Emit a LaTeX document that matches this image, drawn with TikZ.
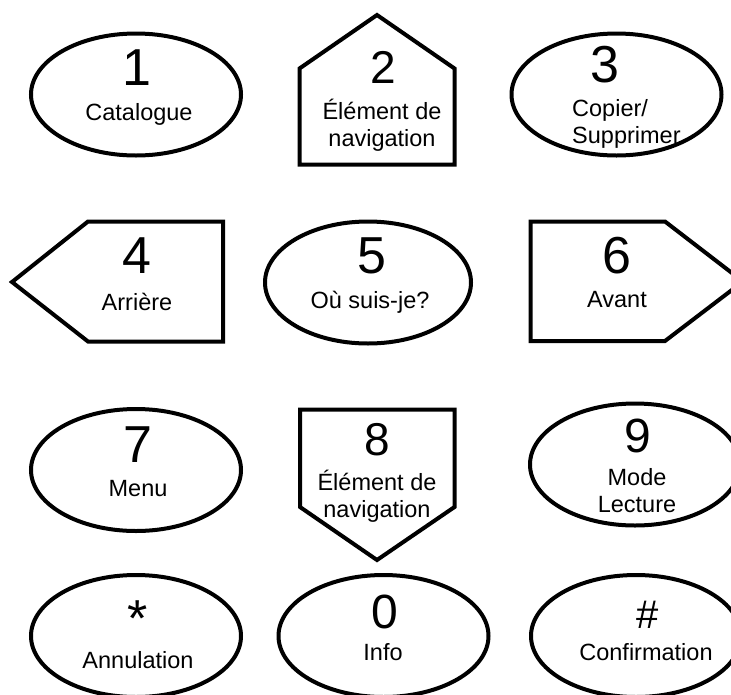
\documentclass[tikz,border=0pt]{standalone}
\usepackage{fontspec}
\setmainfont{Liberation Sans}
\usepackage{tikz}
\usetikzlibrary{shapes.geometric}
\tikzset{
  keyline/.style={draw=black, line width=4pt, line join=miter},
  keyoval/.style={
    ellipse, keyline,
    minimum width=210pt, minimum height=122pt,
    inner sep=0pt
  },
  keynum/.style={font=\fontsize{52}{52}\selectfont, anchor=base, inner sep=0pt},
  % two-line labels sit on the baseline of their last line
  keytext/.style={font=\fontsize{23.5}{27}\selectfont, anchor=base,
                  align=center, inner sep=0pt}
}

\begin{document}
\begin{tikzpicture}[x=1pt, y=-1pt]

  \useasboundingbox (0,0) rectangle (731,694);
  \clip (0,0) rectangle (731,694);

  % row 1
  \node[keyoval] (k1) at (136,94.5) {};
  \node[keynum]  (n1) at (137,85)  {1};
  \node[keytext] (t1) at (139,120) {Catalogue};

  \draw[keyline] (299.5,164.5) -- (454.5,164.5) -- (454.5,68.5)
                 -- (377,15) -- (299.5,68.5) -- cycle;
  \node[keynum, font=\fontsize{46}{46}\selectfont] (n2) at (383,83) {2};
  \node[keytext] (t2) at (382,146) {Élément de\\navigation};

  \node[keyoval] (k3) at (616.5,94.5) {};
  \node[keynum]  (n3) at (605,82)  {3};
  \node[keytext, anchor=base west, align=left] (t3) at (572,143) {Copier/\\Supprimer};

  % row 2
  \draw[keyline] (12,282) -- (88,221.5) -- (223,221.5) -- (223,341.5)
                 -- (88,341.5) -- cycle;
  \node[keynum]  (n4) at (137,273) {4};
  \node[keytext] (t4) at (137,310) {Arrière};

  \node[keyoval, minimum width=206pt] (k5) at (368,282.5) {};
  \node[keynum]  (n5) at (372,273) {5};
  \node[keytext] (t5) at (370,308) {Où suis-je?};

  \draw[keyline] (530.5,221.5) -- (665,221.5) -- (743,281.5)
                 -- (665,341) -- (530.5,341) -- cycle;
  \node[keynum]  (n6) at (617,273) {6};
  \node[keytext] (t6) at (617,307) {Avant};

  % row 3
  \node[keyoval] (k7) at (136,470) {};
  \node[keynum]  (n7) at (138,462) {7};
  \node[keytext] (t7) at (138,496) {Menu};

  \draw[keyline] (300,409.5) -- (454.5,409.5) -- (454.5,507)
                 -- (377,560) -- (300,507) -- cycle;
  \node[keynum, font=\fontsize{46}{46}\selectfont] (n8) at (377,455) {8};
  \node[keytext] (t8) at (377,517) {Élément de\\navigation};

  \node[keyoval] (k9) at (635,464.5) {};
  \node[keynum, font=\fontsize{48}{48}\selectfont] (n9) at (638,452) {9};
  \node[keytext] (t9) at (637,512) {Mode\\Lecture};

  % row 4
  \node[keyoval] (kstar) at (136,636) {};
  \node[keynum]  (nstar) at (138,636) {*};
  \node[keytext] (tstar) at (138,668) {Annulation};

  \node[keyoval] (k0) at (383.5,636) {};
  \node[keynum, font=\fontsize{48}{48}\selectfont] (n0) at (385,628) {0};
  \node[keytext] (t0) at (383,660) {Info};

  \node[keyoval] (khash) at (636,636) {};
  \node[keynum, font=\fontsize{40}{40}\selectfont] (nhash) at (648,628) {\#};
  \node[keytext] (thash) at (646,660) {Confirmation};

\end{tikzpicture}
\end{document}
